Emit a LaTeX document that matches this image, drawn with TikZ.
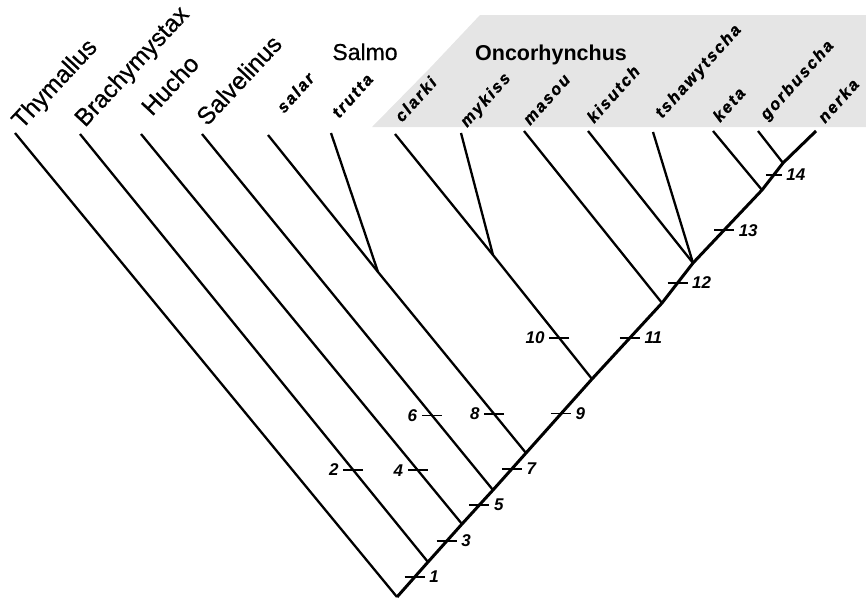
\documentclass[tikz,border=0pt]{standalone}
\usepackage{fontspec}
\setmainfont{Liberation Sans}
\newfontfamily\spfont[LetterSpace=12,FakeBold=1.2]{Liberation Sans}
\newfontfamily\gnfont[FakeBold=0.6]{Liberation Sans}
\begin{document}
\begin{tikzpicture}[x=1pt,y=-1pt,
  branch/.style={line width=2.3pt},
  axis/.style={line width=3pt},
  tickmark/.style={line width=1.4pt},
  genus/.style={font=\gnfont\fontsize{24.5}{24.5}\selectfont, rotate=47, anchor=base west, inner sep=0pt},
  species/.style={font=\spfont\bfseries\itshape\fontsize{16.5}{16.5}\selectfont, rotate=48, anchor=base west, inner sep=0pt},
  num/.style={font=\bfseries\itshape\fontsize{17}{17}\selectfont, inner sep=0pt},
  numr/.style={num, anchor=west, xshift=4pt},
  numl/.style={num, anchor=east, xshift=-4pt}]
\useasboundingbox (0,0) rectangle (866,598);
% shaded Oncorhynchus region
\fill[black!10] (372,127) -- (430,68) -- (480,15) -- (866,15) -- (866,127) -- cycle;
% internal nodes
\coordinate (R) at (397,597);
\coordinate (A) at (428,562);
\coordinate (B) at (462,524);
\coordinate (C) at (493,490);
\coordinate (D) at (526,453);
\coordinate (E) at (592,379);
\coordinate (F) at (662,303);
\coordinate (G) at (693,263);
\coordinate (H) at (762,190);
\coordinate (I) at (783,163);
\coordinate (S) at (378,272);
\coordinate (K) at (493,255);
% tips
\coordinate (thy) at (15,133);
\coordinate (bra) at (80,134);
\coordinate (huc) at (141,134);
\coordinate (sav) at (202,134);
\coordinate (sal) at (268,135);
\coordinate (tru) at (331,133);
\coordinate (cla) at (395,134);
\coordinate (myk) at (461,133);
\coordinate (mas) at (524,131);
\coordinate (kis) at (588,131);
\coordinate (tsh) at (653,132);
\coordinate (ket) at (713,131);
\coordinate (gor) at (758,131);
\coordinate (ner) at (816,131);
% main axis
\draw[axis] (R) -- (A) -- (B) -- (C) -- (D) -- (E) -- (F) -- (G) -- (H) -- (I) -- (ner);
% side branches
\draw[branch] (thy) -- (R);
\draw[branch] (bra) -- (A);
\draw[branch] (huc) -- (B);
\draw[branch] (sav) -- (C);
\draw[branch] (sal) -- (S) -- (D);
\draw[branch] (tru) -- (S);
\draw[branch] (cla) -- (K) -- (E);
\draw[branch] (myk) -- (K);
\draw[branch] (mas) -- (F);
\draw[branch] (kis) -- (G);
\draw[branch] (tsh) -- (G);
\draw[branch] (ket) -- (H);
\draw[branch] (gor) -- (I);
% tick positions
\path (R) -- (A) coordinate[pos=0.57] (t1);
\path (A) -- (bra) coordinate[pos=0.215] (t2);
\path (A) -- (B) coordinate[pos=0.55] (t3);
\path (B) -- (huc) coordinate[pos=0.138] (t4);
\path (B) -- (C) coordinate[pos=0.56] (t5);
\path (C) -- (sav) coordinate[pos=0.21] (t6);
\path (C) -- (D) coordinate[pos=0.57] (t7);
\path (D) -- (S) coordinate[pos=0.215] (t8);
\path (D) -- (E) coordinate[pos=0.53] (t9);
\path (E) -- (K) coordinate[pos=0.33] (t10);
\path (E) -- (F) coordinate[pos=0.54] (t11);
\path (F) -- (G) coordinate[pos=0.5] (t12);
\path (G) -- (H) coordinate[pos=0.45] (t13);
\path (H) -- (I) coordinate[pos=0.56] (t14);
% ticks with numbers
\draw[tickmark] ([xshift=-10pt]t1) -- ([xshift=10pt]t1) node[numr] (n1) {1};
\draw[tickmark] ([xshift=10pt]t2) -- ([xshift=-10pt]t2) node[numl] (n2) {2};
\draw[tickmark] ([xshift=-10pt]t3) -- ([xshift=10pt]t3) node[numr] (n3) {3};
\draw[tickmark] ([xshift=10pt]t4) -- ([xshift=-10pt]t4) node[numl] (n4) {4};
\draw[tickmark] ([xshift=-10pt]t5) -- ([xshift=10pt]t5) node[numr] (n5) {5};
\draw[tickmark] ([xshift=10pt]t6) -- ([xshift=-10pt]t6) node[numl] (n6) {6};
\draw[tickmark] ([xshift=-10pt]t7) -- ([xshift=10pt]t7) node[numr] (n7) {7};
\draw[tickmark] ([xshift=10pt]t8) -- ([xshift=-10pt]t8) node[numl] (n8) {8};
\draw[tickmark] ([xshift=-10pt]t9) -- ([xshift=10pt]t9) node[numr] (n9) {9};
\draw[tickmark] ([xshift=10pt]t10) -- ([xshift=-10pt]t10) node[numl] (n10) {10};
\draw[tickmark] ([xshift=-10pt]t11) -- ([xshift=10pt]t11) node[numr] (n11) {11};
\draw[tickmark] ([xshift=-10pt]t12) -- ([xshift=10pt]t12) node[numr] (n12) {12};
\draw[tickmark] ([xshift=-10pt]t13) -- ([xshift=10pt]t13) node[numr] (n13) {13};
\draw[tickmark] ([xshift=-8pt]t14) -- ([xshift=8pt]t14) node[numr] (n14) {14};
% genus labels
\node[genus] (Lthy) at (22,130) {Thymallus};
\node[genus] (Lbra) at (85,128) {Brachymystax};
\node[genus] (Lhuc) at (152,117) {Hucho};
\node[genus] (Lsav) at (207,127) {Salvelinus};
\node[font=\gnfont\fontsize{23}{23}\selectfont, anchor=base, inner sep=0pt] (Lsalmo) at (365,60) {Salmo};
\node[font=\bfseries\fontsize{21.5}{21.5}\selectfont, anchor=base, inner sep=0pt] (Lonc) at (551,60) {Oncorhynchus};
% species labels
\node[species] (Lsal) at (284,114) {salar};
\node[species] (Ltru) at (339,119) {trutta};
\node[species] (Lcla) at (402,123) {clarki};
\node[species] (Lmyk) at (467,128) {mykiss};
\node[species] (Lmas) at (530,126) {masou};
\node[species] (Lkis) at (594,124) {kisutch};
\node[species] (Ltsh) at (662,119) {tshawytscha};
\node[species] (Lket) at (720,123) {keta};
\node[species] (Lgor) at (767,121) {gorbuscha};
\node[species] (Lner) at (825,124) {nerka};
\end{tikzpicture}
\end{document}
